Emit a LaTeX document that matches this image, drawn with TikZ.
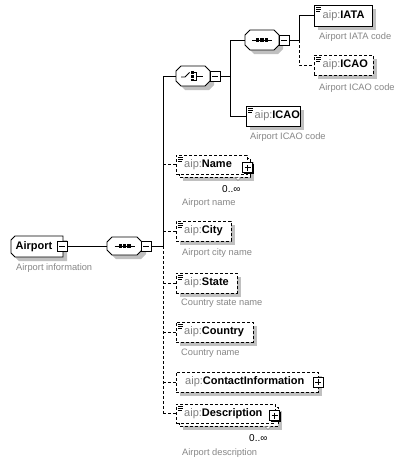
\documentclass[tikz,border=0pt]{standalone}
\usepackage{fontspec}
\setmainfont{Liberation Sans}
\definecolor{shadowc}{RGB}{192,192,192}
\definecolor{aipgray}{RGB}{128,128,128}
\definecolor{descgray}{RGB}{135,135,135}
\tikzset{
  conn/.style={line width=0.8pt, black},
  dconn/.style={conn, dash pattern=on 3pt off 2pt},
  boxline/.style={line width=0.8pt},
  dbox/.style={dash pattern=on 3pt off 2pt},
  elabel/.style={anchor=west, inner sep=0, font=\fontsize{11}{12}\selectfont},
  dlabel/.style={anchor=west, inner sep=0, font=\fontsize{9.3}{10}\selectfont, text=descgray},
  occ/.style={anchor=west, inner sep=0, font=\fontsize{10}{10}\selectfont},
}
% element box: name, l, t, r, b, extra style
\newcommand{\elbox}[6]{%
  \fill[shadowc] (#2+4,#3+4) rectangle (#4+4,#5+4);
  \node[draw, boxline, fill=white, #6, inner sep=0, outer sep=0, minimum width=#4-#2, minimum height=#5-#3, anchor=north west] (#1) at (#2,#3) {};
}
% multiple-occurrence box: name, l, t, r, b (front box)
\newcommand{\multibox}[5]{%
  \fill[shadowc] (#2+7,#3+7) rectangle (#4+7,#5+7);
  \draw[boxline, dbox, fill=white] (#2+3,#3+3) rectangle (#4+3,#5+3);
  \node[draw, boxline, dbox, fill=white, inner sep=0, outer sep=0, minimum width=#4-#2, minimum height=#5-#3, anchor=north west] (#1) at (#2,#3) {};
}
% documentation icon at l, t
\newcommand{\docicon}[2]{%
  \draw[line width=0.6pt] (#1+2,#2+2) -- (#1+7,#2+2) (#1+2,#2+4) -- (#1+7,#2+4) (#1+2,#2+6) -- (#1+6,#2+6);
}
% expand/collapse box: name, cx, cy, sign (0 minus, 1 plus)
\newcommand{\xpand}[4]{%
  \fill[black] (#2-4,#3-4) rectangle (#2+6,#3+6);
  \node[draw, fill=white, line width=0.7pt, inner sep=0, outer sep=0, minimum size=10] (#1) at (#2,#3) {};
  \draw[line width=0.8pt] (#2-3,#3) -- (#2+3,#3);
  \ifnum#4=1 \draw[line width=0.8pt] (#2,#3-3) -- (#2,#3+3);\fi
}
% compositor octagon: name, l, t, r, b
\newcommand{\octo}[5]{%
  \fill[shadowc] (#2+9,#3+4) -- (#4-1,#3+4) -- (#4+4,#3+9) -- (#4+4,#5-1) -- (#4-1,#5+4) -- (#2+9,#5+4) -- (#2+4,#5-1) -- (#2+4,#3+9) -- cycle;
  \draw[boxline, fill=white] (#2+5,#3) -- (#4-5,#3) -- (#4,#3+5) -- (#4,#5-5) -- (#4-5,#5) -- (#2+5,#5) -- (#2,#5-5) -- (#2,#3+5) -- cycle;
  \node[inner sep=0, outer sep=0, minimum width=#4-#2, minimum height=#5-#3, anchor=north west] (#1) at (#2,#3) {};
}
% sequence symbol centred at cx, cy
\newcommand{\seqsym}[2]{%
  \draw[line width=1pt] (#1-10,#2) -- (#1+10,#2);
  \fill (#1-6,#2-1.6) rectangle (#1-2.8,#2+1.6);
  \fill (#1-1.6,#2-1.6) rectangle (#1+1.6,#2+1.6);
  \fill (#1+2.8,#2-1.6) rectangle (#1+6,#2+1.6);
}
\begin{document}
\begin{tikzpicture}[x=1pt,y=-1pt]
\useasboundingbox[fill=white] (0,0) rectangle (408,463);

% ---------- Airport ----------
\fill[shadowc] (19,240) -- (67,240) -- (67,261) -- (19,261) -- (15,257) -- (15,244) -- cycle;
\draw[line width=0.9pt, fill=white] (15,236) -- (63,236) -- (63,257) -- (15,257) -- (11,253) -- (11,240) -- cycle;
\node[inner sep=0, outer sep=0, minimum width=52, minimum height=21, anchor=north west] (airport) at (11,236) {};
\node[elabel, font=\fontsize{11}{12}\selectfont\bfseries] (airporttxt) at (15.5,246.5) {Airport};
\xpand{airportm}{62}{246}{0}
\node[dlabel] (airportdoc) at (16,268) {Airport information};

% ---------- sequence 1 ----------
\octo{seq1}{107}{237}{142}{255}
\seqsym{124.5}{246}
\xpand{seq1m}{146}{246}{0}
\draw[conn] (airportm.east) -- (seq1.west);
\coordinate (j1) at (163,246);
\draw[conn] (seq1m.east) -- (j1);

% ---------- choice ----------
\octo{choice}{176}{66}{210}{86}
\draw[line width=0.9pt] (181,77) -- (185,77) -- (189.5,72.5);
\fill (191.3,71.3) rectangle (194,74);
\fill (191.3,75) rectangle (194,77.7);
\fill (191.3,78.7) rectangle (194,81.4);
\draw[line width=0.8pt] (194,72.6) -- (196.5,72.6) -- (196.5,80) -- (194,80) (196.5,76.3) -- (203,76.3);
\xpand{choicem}{215}{76}{0}
\coordinate (j2) at (230,76);
\draw[conn] (choicem.east) -- (j2);

% ---------- sequence 2 ----------
\octo{seq2}{245}{30}{279}{50}
\seqsym{262}{40}
\xpand{seq2m}{284}{40}{0}
\coordinate (j3) at (299,40);
\draw[conn] (seq2m.east) -- (j3);

% ---------- IATA / ICAO ----------
\elbox{iata}{314}{5}{372}{26}{}
\docicon{314}{5}
\node[elabel] (iatatxt) at (322.5,15.5) {\textcolor{aipgray}{aip:}\textbf{IATA}};
\node[dlabel] (iatadoc) at (319,37) {Airport IATA code};

\elbox{icaoopt}{314}{55}{373}{75}{dbox}
\docicon{314}{55}
\node[elabel] (icaoopttxt) at (322.5,65) {\textcolor{aipgray}{aip:}\textbf{ICAO}};
\node[dlabel] (icaooptdoc) at (319,88) {Airport ICAO code};

\elbox{icaoreq}{246}{106}{300}{126}{}
\docicon{246}{106}
\node[elabel] (icaoreqtxt) at (254.5,116) {\textcolor{aipgray}{aip:}\textbf{ICAO}};
\node[dlabel] (icaoreqdoc) at (250,137) {Airport ICAO code};

\draw[conn] (j2) |- (seq2.west);
\draw[conn] (j2) |- (icaoreq.west);
\draw[conn] (j3) |- (iata.west);
\draw[dconn] (j3) |- (icaoopt.west);

% ---------- Name ----------
\multibox{name}{176}{155}{247}{174}
\docicon{176}{155}
\node[elabel] (nametxt) at (184,164.5) {\textcolor{aipgray}{aip:}\textbf{Name}};
\xpand{namep}{247.5}{167.5}{1}
\filldraw[fill=white, draw=gray, line width=0.5pt] (235,177.5) -- (238,180.5) -- (241,177.5);
\node[occ] (nameocc) at (222,189) {0..∞};
\node[dlabel] (namedoc) at (182,203) {Airport name};

% ---------- City ----------
\elbox{city}{176}{221}{231}{241}{dbox}
\docicon{176}{221}
\node[elabel] (citytxt) at (184,231) {\textcolor{aipgray}{aip:}\textbf{City}};
\node[dlabel] (citydoc) at (182,253) {Airport city name};

% ---------- State ----------
\elbox{state}{176}{273}{237}{293}{dbox}
\docicon{176}{273}
\node[elabel] (statetxt) at (184,283) {\textcolor{aipgray}{aip:}\textbf{State}};
\node[dlabel] (statedoc) at (181,303) {Country state name};

% ---------- Country ----------
\elbox{country}{176}{322}{253}{342}{dbox}
\docicon{176}{322}
\node[elabel] (countrytxt) at (184,332) {\textcolor{aipgray}{aip:}\textbf{Country}};
\node[dlabel] (countrydoc) at (181,353) {Country name};

% ---------- ContactInformation ----------
\elbox{contact}{176}{372}{318}{392}{dbox}
\node[elabel] (contacttxt) at (185,382) {\textcolor{aipgray}{aip:}\textbf{ContactInformation}};
\xpand{contactp}{318}{382}{1}

% ---------- Description ----------
\multibox{desc}{176}{404}{275}{423}
\docicon{176}{404}
\node[elabel] (desctxt) at (184,413.5) {\textcolor{aipgray}{aip:}\textbf{Description}};
\xpand{descp}{274.5}{415.5}{1}
\filldraw[fill=white, draw=gray, line width=0.5pt] (265,426.5) -- (268,429.5) -- (271,426.5);
\node[occ] (descocc) at (249,438) {0..∞};
\node[dlabel] (descdoc) at (182,453) {Airport description};

% ---------- trunk connectors ----------
\draw[conn] (j1) |- (choice.west);
\draw[dconn] (j1) -- (desc.west -| j1);
\draw[dconn] (name.west -| j1) -- (name.west);
\draw[dconn] (city.west -| j1) -- (city.west);
\draw[dconn] (state.west -| j1) -- (state.west);
\draw[dconn] (country.west -| j1) -- (country.west);
\draw[dconn] (contact.west -| j1) -- (contact.west);
\draw[dconn] (desc.west -| j1) -- (desc.west);
\end{tikzpicture}
\end{document}
